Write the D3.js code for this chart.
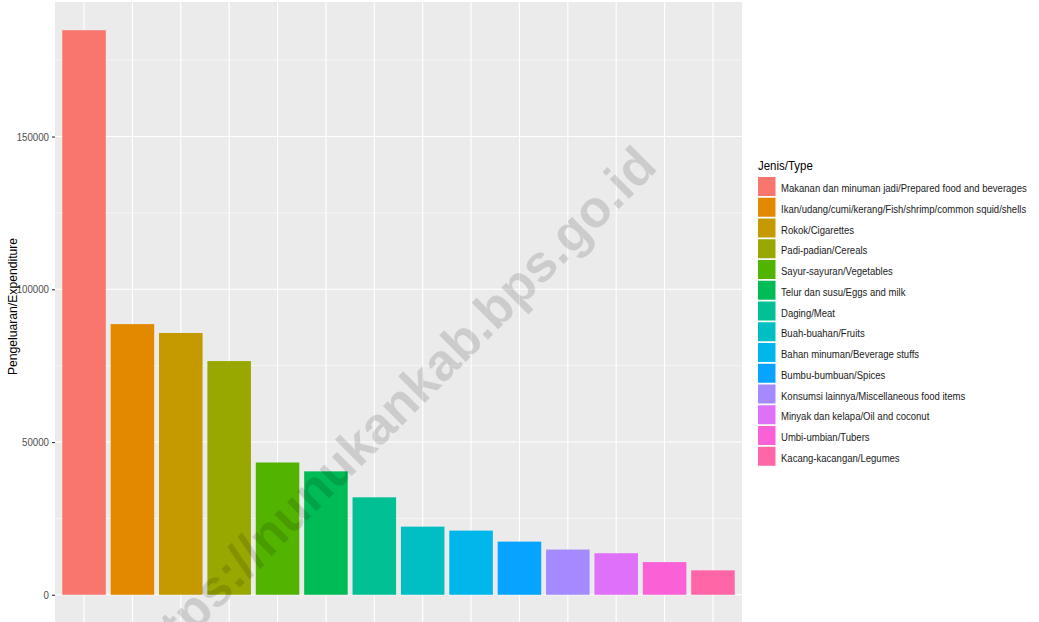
<!DOCTYPE html>
<html>
<head>
<meta charset="utf-8">
<script src="https://cdn.jsdelivr.net/npm/d3@7"></script>
<style>
  body { margin: 0; background: #fff; }
  svg { display: block; font-family: "Liberation Sans", Arial, sans-serif; }
</style>
</head>
<body>
<div id="chart-container"></div>
<script>
// Food types, sorted by expenditure
const categories = [
  "Makanan dan minuman jadi/Prepared food and beverages",
  "Ikan/udang/cumi/kerang/Fish/shrimp/common squid/shells",
  "Rokok/Cigarettes",
  "Padi-padian/Cereals",
  "Sayur-sayuran/Vegetables",
  "Telur dan susu/Eggs and milk",
  "Daging/Meat",
  "Buah-buahan/Fruits",
  "Bahan minuman/Beverage stuffs",
  "Bumbu-bumbuan/Spices",
  "Konsumsi lainnya/Miscellaneous food items",
  "Minyak dan kelapa/Oil and coconut",
  "Umbi-umbian/Tubers",
  "Kacang-kacangan/Legumes"
];

// Expenditure values
const values = [184800, 88600, 85700, 76500, 43300, 40400, 31900, 22300, 21000, 17400, 14800, 13600, 10700, 8000];

// y axis ticks
const majorTicks = [0, 50000, 100000, 150000];
const minorTicks = [25000, 75000, 125000, 175000];

// ggplot default hue palette for 14 levels
const palette = ["#F8766D", "#E38900", "#C49A00", "#99A800", "#53B400", "#00BC56", "#00C094",
                 "#00BFC4", "#00B6EB", "#06A4FF", "#A58AFF", "#DF70F8", "#FB61D7", "#FF66A8"];

const width = 1039;
const height = 622;
const panel = { left: 55, right: 742, top: 2, bottom: 623 };

const data = categories.map((c, i) => ({ type: c, value: values[i] }));

const color = d3.scaleOrdinal().domain(categories).range(palette);

// discrete x scale with ggplot's 0.6 expansion
const x = d3.scalePoint()
  .domain(categories)
  .range([panel.left, panel.right])
  .padding(0.6);
const barWidth = x.step() * 0.9;

// continuous y scale with 5% expansion
const maxVal = d3.max(values);
const y = d3.scaleLinear()
  .domain([-maxVal * 0.05, maxVal * 1.05])
  .range([panel.bottom, panel.top]);

const svg = d3.create("svg")
  .attr("width", width)
  .attr("height", height);

document.getElementById("chart-container").appendChild(svg.node());

// the reference text is set a bit narrower than Liberation Sans
function squeeze(sel, factor) {
  sel.each(function () {
    const w = this.getComputedTextLength();
    d3.select(this)
      .attr("textLength", w * factor)
      .attr("lengthAdjust", "spacingAndGlyphs");
  });
}

// panel background
svg.append("rect")
  .attr("x", panel.left)
  .attr("y", panel.top)
  .attr("width", panel.right - panel.left)
  .attr("height", panel.bottom - panel.top)
  .attr("fill", "#EBEBEB");

// grid lines
const grid = svg.append("g");
grid.selectAll(".minor")
  .data(minorTicks)
  .join("line")
  .attr("x1", panel.left).attr("x2", panel.right)
  .attr("y1", d => y(d)).attr("y2", d => y(d))
  .attr("stroke", "#fff").attr("stroke-width", 0.55);
grid.selectAll(".major-y")
  .data(majorTicks)
  .join("line")
  .attr("x1", panel.left).attr("x2", panel.right)
  .attr("y1", d => y(d)).attr("y2", d => y(d))
  .attr("stroke", "#fff").attr("stroke-width", 1.1);
grid.selectAll(".major-x")
  .data(categories)
  .join("line")
  .attr("x1", d => x(d)).attr("x2", d => x(d))
  .attr("y1", panel.top).attr("y2", panel.bottom)
  .attr("stroke", "#fff").attr("stroke-width", 1.1);

// bars
svg.append("g")
  .selectAll("rect")
  .data(data)
  .join("rect")
  .attr("x", d => x(d.type) - barWidth / 2)
  .attr("y", d => y(d.value))
  .attr("width", barWidth)
  .attr("height", d => y(0) - y(d.value))
  .attr("fill", d => color(d.type));

// y axis
const yAxis = svg.append("g")
  .attr("transform", `translate(${panel.left},0)`)
  .call(d3.axisLeft(y).tickValues(majorTicks).tickSize(3).tickPadding(3).tickFormat(d3.format("d")));
yAxis.select(".domain").remove();
yAxis.selectAll(".tick line").attr("stroke", "#333").attr("stroke-width", 1.1);
yAxis.selectAll(".tick text")
  .attr("fill", "#4D4D4D")
  .style("font-size", "11px")
  .style("font-family", "'Liberation Sans', Arial, sans-serif")
  .call(squeeze, 0.88);

// y axis title
svg.append("text")
  .attr("transform", `translate(17,${(panel.top + panel.bottom) / 2 - 6}) rotate(-90)`)
  .attr("text-anchor", "middle")
  .attr("fill", "#000")
  .style("font-size", "13.5px")
  .text("Pengeluaran/Expenditure")
  .call(squeeze, 0.9);

// legend
const legend = svg.append("g").attr("transform", "translate(758,0)");
legend.append("text")
  .attr("x", 0)
  .attr("y", 170)
  .attr("fill", "#000")
  .style("font-size", "13.5px")
  .text("Jenis/Type")
  .call(squeeze, 0.85);

const item = legend.selectAll(".item")
  .data(categories)
  .join("g")
  .attr("transform", (d, i) => `translate(0,${177 + i * 20.75})`);
item.append("rect")
  .attr("width", 17.5)
  .attr("height", 19)
  .attr("fill", d => color(d));
item.append("text")
  .attr("transform", "translate(23,11) scale(0.83,1)")
  .attr("dy", "0.35em")
  .attr("fill", "#1A1A1A")
  .style("font-size", "11.5px")
  .text(d => d);

// watermark
svg.append("text")
  .attr("transform", "translate(390,412) rotate(-45)")
  .attr("text-anchor", "middle")
  .attr("dy", "0.35em")
  .attr("fill", "#000")
  .attr("fill-opacity", 0.13)
  .style("font-size", "52px")
  .style("font-weight", "bold")
  .text("https://nunukankab.bps.go.id");
</script>
</body>
</html>
